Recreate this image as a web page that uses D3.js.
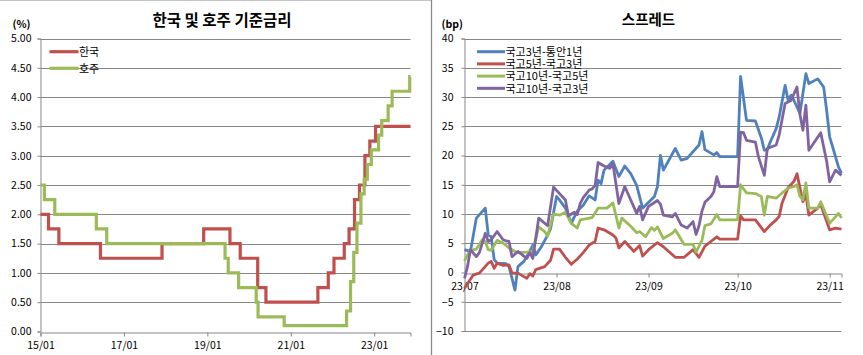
<!DOCTYPE html>
<html><head><meta charset="utf-8">
<script src="https://cdn.jsdelivr.net/npm/d3@7"></script>
<style>
body{margin:0;background:#fff}
svg{display:block}
text{font-family:"Noto Sans CJK KR","Noto Sans",sans-serif;fill:#000}
</style>
</head><body><svg id="c" width="863" height="355"></svg>
<script>
// ---------- Left chart data: policy rates (change dates) ----------
const leftTitle = "한국 및 호주 기준금리";
const leftUnit = "(%)";
const leftNames = ["한국", "호주"];
const koreaDates = ["2015-01-01","2015-03-12","2015-06-11","2016-06-09","2017-11-30","2018-11-30","2019-07-18","2019-10-16","2020-03-17","2020-05-28","2021-08-26","2021-11-25","2022-01-14","2022-04-14","2022-05-26","2022-07-13","2022-08-25","2022-10-12","2022-11-24","2023-01-13"];
const koreaRates = [2.00,1.75,1.50,1.25,1.50,1.75,1.50,1.25,0.75,0.50,0.75,1.00,1.25,1.50,1.75,2.25,2.50,3.00,3.25,3.50];
const ausDates = ["2015-01-01","2015-02-04","2015-05-06","2016-05-04","2016-08-03","2019-06-05","2019-07-03","2019-10-02","2020-03-04","2020-03-20","2020-11-04","2022-05-04","2022-06-08","2022-07-06","2022-08-03","2022-09-07","2022-10-05","2022-11-02","2022-12-07","2023-02-08","2023-03-08","2023-05-03","2023-06-07","2023-11-08"];
const ausRates = [2.50,2.25,2.00,1.75,1.50,1.25,1.00,0.75,0.50,0.25,0.10,0.35,0.85,1.35,1.85,2.35,2.60,2.85,3.10,3.35,3.60,3.85,4.10,4.35];
const leftEndDate = "2023-11-15";
const leftXTicks = ["2015-01-01","2017-01-01","2019-01-01","2021-01-01","2023-01-01"];
const leftYTicks = [0,0.5,1,1.5,2,2.5,3,3.5,4,4.5,5];

// ---------- Right chart data: spreads (bp) ----------
const rightTitle = "스프레드";
const rightUnit = "(bp)";
const rightNames = ["국고3년-통안1년","국고5년-국고3년","국고10년-국고5년","국고10년-국고3년"];
const s3y1y = [["07/01",3.9],["07/03",3.6],["07/05",9.3],["07/08",11.0],["07/09",6.4],["07/10",6.1],["07/11",2.2],["07/12",1.6],["07/15",1.5],["07/16",1.0],["07/18",-3.0],["07/19",1.0],["07/21",1.9],["07/23",3.6],["07/24",4.7],["07/25",3.0],["07/27",4.5],["07/29",6.4],["07/30",7.5],["08/01",13.0],["08/02",12.4],["08/04",11.0],["08/06",8.4],["08/07",9.5],["08/08",10.5],["08/10",11.5],["08/12",13.1],["08/14",12.4],["08/15",15.8],["08/16",15.2],["08/17",17.5],["08/20",19.0],["08/22",16.4],["08/24",18.2],["08/26",16.9],["08/28",14.9],["08/30",11.0],["08/31",11.5],["09/03",13.0],["09/04",14.7],["09/05",20.0],["09/06",17.5],["09/10",21.2],["09/12",19.2],["09/14",19.5],["09/18",21.8],["09/19",24.1],["09/20",21.0],["09/23",20.1],["09/24",20.5],["09/25",19.8],["10/01",19.8],["10/02",33.5],["10/04",26.0],["10/07",25.9],["10/09",23.0],["10/10",20.9],["10/11",21.0],["10/12",22.3],["10/14",24.6],["10/15",26.6],["10/17",32.0],["10/18",29.5],["10/19",30.3],["10/20",29.4],["10/22",27.2],["10/24",34.0],["10/25",32.3],["10/28",33.1],["10/30",31.7],["10/31",27.7],["11/01",23.2],["11/02",21.5],["11/04",18.0],["11/05",17.0]];
const s5y3y = [["07/01",-2.7],["07/04",-0.4],["07/06",-0.1],["07/09",1.6],["07/10",1.9],["07/11",0.7],["07/12",1.6],["07/14",1.2],["07/16",1.3],["07/17",-0.1],["07/19",-0.1],["07/21",-0.7],["07/22",-1.0],["07/23",-0.2],["07/24",-0.6],["07/25",0.5],["07/28",1.0],["07/30",2.1],["07/31",4.0],["08/02",4.0],["08/04",2.6],["08/06",1.4],["08/08",2.3],["08/10",3.4],["08/12",4.7],["08/14",5.3],["08/15",7.6],["08/17",7.3],["08/20",6.4],["08/21",5.9],["08/22",4.2],["08/24",5.3],["08/26",4.2],["08/27",3.6],["08/29",4.6],["08/30",2.8],["09/01",3.9],["09/04",5.1],["09/06",4.4],["09/10",2.6],["09/13",2.6],["09/16",3.9],["09/18",2.6],["09/20",4.5],["09/22",5.3],["09/24",6.1],["09/25",5.7],["10/01",5.7],["10/02",9.7],["10/03",9.0],["10/07",9.0],["10/10",7.0],["10/12",8.1],["10/14",9.0],["10/15",9.6],["10/16",11.9],["10/18",14.5],["10/20",15.6],["10/21",16.9],["10/23",12.1],["10/24",13.3],["10/25",9.8],["10/28",11.0],["10/29",11.6],["11/01",7.3],["11/03",7.6],["11/05",7.4]];
const s10y5y = [["07/01",2.0],["07/02",3.0],["07/03",3.8],["07/05",4.0],["07/07",5.6],["07/08",5.3],["07/09",3.9],["07/10",3.8],["07/12",5.5],["07/14",5.0],["07/16",4.2],["07/18",3.6],["07/19",3.4],["07/22",3.5],["07/24",3.6],["07/26",7.8],["07/28",7.0],["07/29",6.2],["07/31",10.0],["08/02",9.8],["08/04",10.3],["08/06",8.4],["08/08",7.6],["08/09",9.0],["08/13",9.4],["08/15",11.0],["08/18",11.0],["08/20",11.9],["08/22",7.6],["08/23",9.3],["08/26",7.9],["08/28",6.8],["08/29",7.0],["08/31",6.1],["09/02",7.7],["09/03",7.2],["09/04",7.8],["09/06",5.8],["09/09",6.7],["09/10",7.3],["09/13",4.8],["09/16",4.8],["09/17",3.5],["09/19",5.5],["09/20",8.0],["09/22",8.3],["09/24",9.9],["09/25",9.0],["10/01",9.0],["10/02",15.0],["10/04",13.6],["10/07",13.5],["10/09",13.0],["10/10",9.8],["10/11",13.0],["10/14",12.7],["10/16",13.6],["10/18",14.4],["10/20",14.7],["10/21",15.0],["10/22",13.0],["10/23",12.4],["10/24",15.3],["10/25",11.0],["10/28",11.0],["10/29",12.1],["11/01",8.4],["11/04",10.1],["11/05",9.3]];
const s10y3y = [["07/01",-1.0],["07/02",1.0],["07/03",3.9],["07/05",2.7],["07/06",3.4],["07/08",6.7],["07/09",5.3],["07/10",5.6],["07/12",7.0],["07/14",5.6],["07/15",5.4],["07/16",5.3],["07/17",2.7],["07/19",3.6],["07/22",2.4],["07/23",3.4],["07/24",2.4],["07/26",9.3],["07/29",8.0],["07/31",14.6],["08/04",12.4],["08/05",9.7],["08/07",10.3],["08/08",9.9],["08/09",11.8],["08/10",12.8],["08/12",14.1],["08/13",14.3],["08/14",14.9],["08/15",18.8],["08/17",18.2],["08/19",17.8],["08/20",18.6],["08/22",11.8],["08/24",14.7],["08/26",12.4],["08/28",10.1],["08/29",11.3],["08/30",9.0],["09/01",11.3],["09/04",12.3],["09/05",11.7],["09/06",9.8],["09/09",9.5],["09/10",10.1],["09/12",8.1],["09/14",7.6],["09/16",8.7],["09/17",6.5],["09/18",8.0],["09/19",10.5],["09/20",12.0],["09/22",13.0],["09/23",13.8],["09/24",16.4],["09/25",14.7],["10/01",14.7],["10/02",24.0],["10/03",23.9],["10/04",22.6],["10/07",22.3],["10/08",19.8],["10/10",16.6],["10/11",21.2],["10/14",21.8],["10/15",23.5],["10/17",28.9],["10/19",29.4],["10/21",31.7],["10/22",27.0],["10/23",24.3],["10/24",28.6],["10/25",20.9],["10/29",23.9],["10/31",19.0],["11/01",15.5],["11/03",17.5],["11/05",16.6]];
const rightStartDate = "2023-07-01", rightEndDate = "2023-11-05";
const rightXTicks = ["2023-07-01","2023-08-01","2023-09-01","2023-10-01","2023-11-01"];
const rightYTicks = [-10,-5,0,5,10,15,20,25,30,35,40];

// ---------- styles ----------
const gridColor = "#878787";
const leftColors = ["#C0504D", "#9BBB59"];
const rightColors = ["#4F81BD", "#C0504D", "#9BBB59", "#8064A2"];

const parseISO = d3.utcParse("%Y-%m-%d");
const parseMD = s => d3.utcParse("%Y/%m/%d")("2023/" + s);
const fmtYM = d3.utcFormat("%y/%m");
const svg = d3.select("#c");

// sheet decorations: top border and separator
svg.append("line").attr("x1",0).attr("x2",432).attr("y1",0.5).attr("y2",0.5).attr("stroke","#c4c4c4");
svg.append("line").attr("x1",431.5).attr("x2",431.5).attr("y1",0).attr("y2",355).attr("stroke","#8a8a8a").attr("stroke-width",1.3);

function drawFrame(g, x, y, xTicks, yTicks, xAxisY, yLabelPad, yFmt) {
  // gridlines
  g.append("g").selectAll("line").data(yTicks.filter(v => y(v) !== xAxisY))
    .join("line")
    .attr("x1", x.range()[0]).attr("x2", x.range()[1])
    .attr("y1", d => Math.round(y(d)) + 0.5).attr("y2", d => Math.round(y(d)) + 0.5)
    .attr("stroke", gridColor).attr("stroke-width", 1);
  // y axis
  const ya = g.append("g").attr("transform", `translate(${x.range()[0]},0)`)
    .call(d3.axisLeft(y).tickValues(yTicks).tickSize(3).tickPadding(yLabelPad).tickFormat(yFmt));
  ya.select(".domain").attr("stroke", gridColor);
  ya.selectAll(".tick line").attr("stroke", gridColor);
  ya.selectAll("text").attr("font-size", 10.5).style("font-family", '"Noto Sans CJK KR"');
  // x axis
  const xa = g.append("g").attr("transform", `translate(0,${Math.round(xAxisY) + 0.5})`)
    .call(d3.axisBottom(x).tickValues(xTicks.map(parseISO)).tickSize(4).tickPadding(5).tickFormat(fmtYM));
  xa.select(".domain").attr("stroke", gridColor);
  xa.selectAll(".tick line").attr("stroke", gridColor);
  xa.selectAll("text").attr("font-size", 10.5).style("font-family", '"Noto Sans CJK KR"');
}

// ---------- Left chart ----------
{
  const g = svg.append("g");
  const x = d3.scaleUtc().domain([parseISO("2015-01-01"), parseISO(leftEndDate)]).range([40.5, 410.5]);
  const y = d3.scaleLinear().domain([0, 5]).range([331.5, 38.5]);
  drawFrame(g, x, y, leftXTicks, leftYTicks, y(0), 6, d3.format(".2f"));

  const series = [
    koreaDates.map((d, i) => [parseISO(d), koreaRates[i]]),
    ausDates.map((d, i) => [parseISO(d), ausRates[i]])
  ];
  const line = d3.line().x(d => x(d[0])).y(d => y(d[1])).curve(d3.curveStepAfter);
  series.forEach((s, i) => {
    const pts = s.concat([[parseISO(leftEndDate), s[s.length - 1][1]]]);
    g.append("path").attr("d", line(pts)).attr("fill", "none")
      .attr("stroke", leftColors[i]).attr("stroke-width", 3.2).attr("stroke-linejoin", "miter");
  });

  g.append("text").attr("x", 222).attr("y", 26).attr("text-anchor", "middle")
    .attr("font-size", 15.5).attr("font-weight", "bold").text(leftTitle);
  g.append("text").attr("x", 12.5).attr("y", 28).attr("font-size", 10.5).attr("font-weight", "bold").text(leftUnit);

  leftNames.forEach((n, i) => {
    const ly = 51.7 + i * 16.6;
    g.append("line").attr("x1", 49.5).attr("x2", 78.5).attr("y1", ly).attr("y2", ly)
      .attr("stroke", leftColors[i]).attr("stroke-width", 3.2);
    g.append("text").attr("x", 79).attr("y", ly + 4.3).attr("font-size", 11).text(n);
  });
}

// ---------- Right chart ----------
{
  const g = svg.append("g");
  const x = d3.scaleUtc().domain([parseISO(rightStartDate), parseISO(rightEndDate)]).range([464.5, 841.5]);
  const y = d3.scaleLinear().domain([-10, 40]).range([331, 38.5]);
  drawFrame(g, x, y, rightXTicks, rightYTicks, y(0), 8, d3.format("d"));

  const series = [s3y1y, s5y3y, s10y5y, s10y3y].map(s => s.map(d => [parseMD(d[0]), d[1]]));
  const line = d3.line().x(d => x(d[0])).y(d => y(d[1]));
  series.forEach((s, i) => {
    g.append("path").attr("d", line(s)).attr("fill", "none")
      .attr("stroke", rightColors[i]).attr("stroke-width", 2.8).attr("stroke-linejoin", "round");
  });

  g.append("text").attr("x", 648.5).attr("y", 24.5).attr("text-anchor", "middle")
    .attr("font-size", 14.5).attr("font-weight", "bold").text(rightTitle);
  g.append("text").attr("x", 441.5).attr("y", 27.5).attr("font-size", 10.5).attr("font-weight", "bold").text(rightUnit);

  rightNames.forEach((n, i) => {
    const ly = 51.7 + i * 12.2;
    g.append("line").attr("x1", 477).attr("x2", 505).attr("y1", ly).attr("y2", ly)
      .attr("stroke", rightColors[i]).attr("stroke-width", 3);
    g.append("text").attr("x", 505.5).attr("y", ly + 4.2).attr("font-size", 11).text(n);
  });
}
</script></body></html>
